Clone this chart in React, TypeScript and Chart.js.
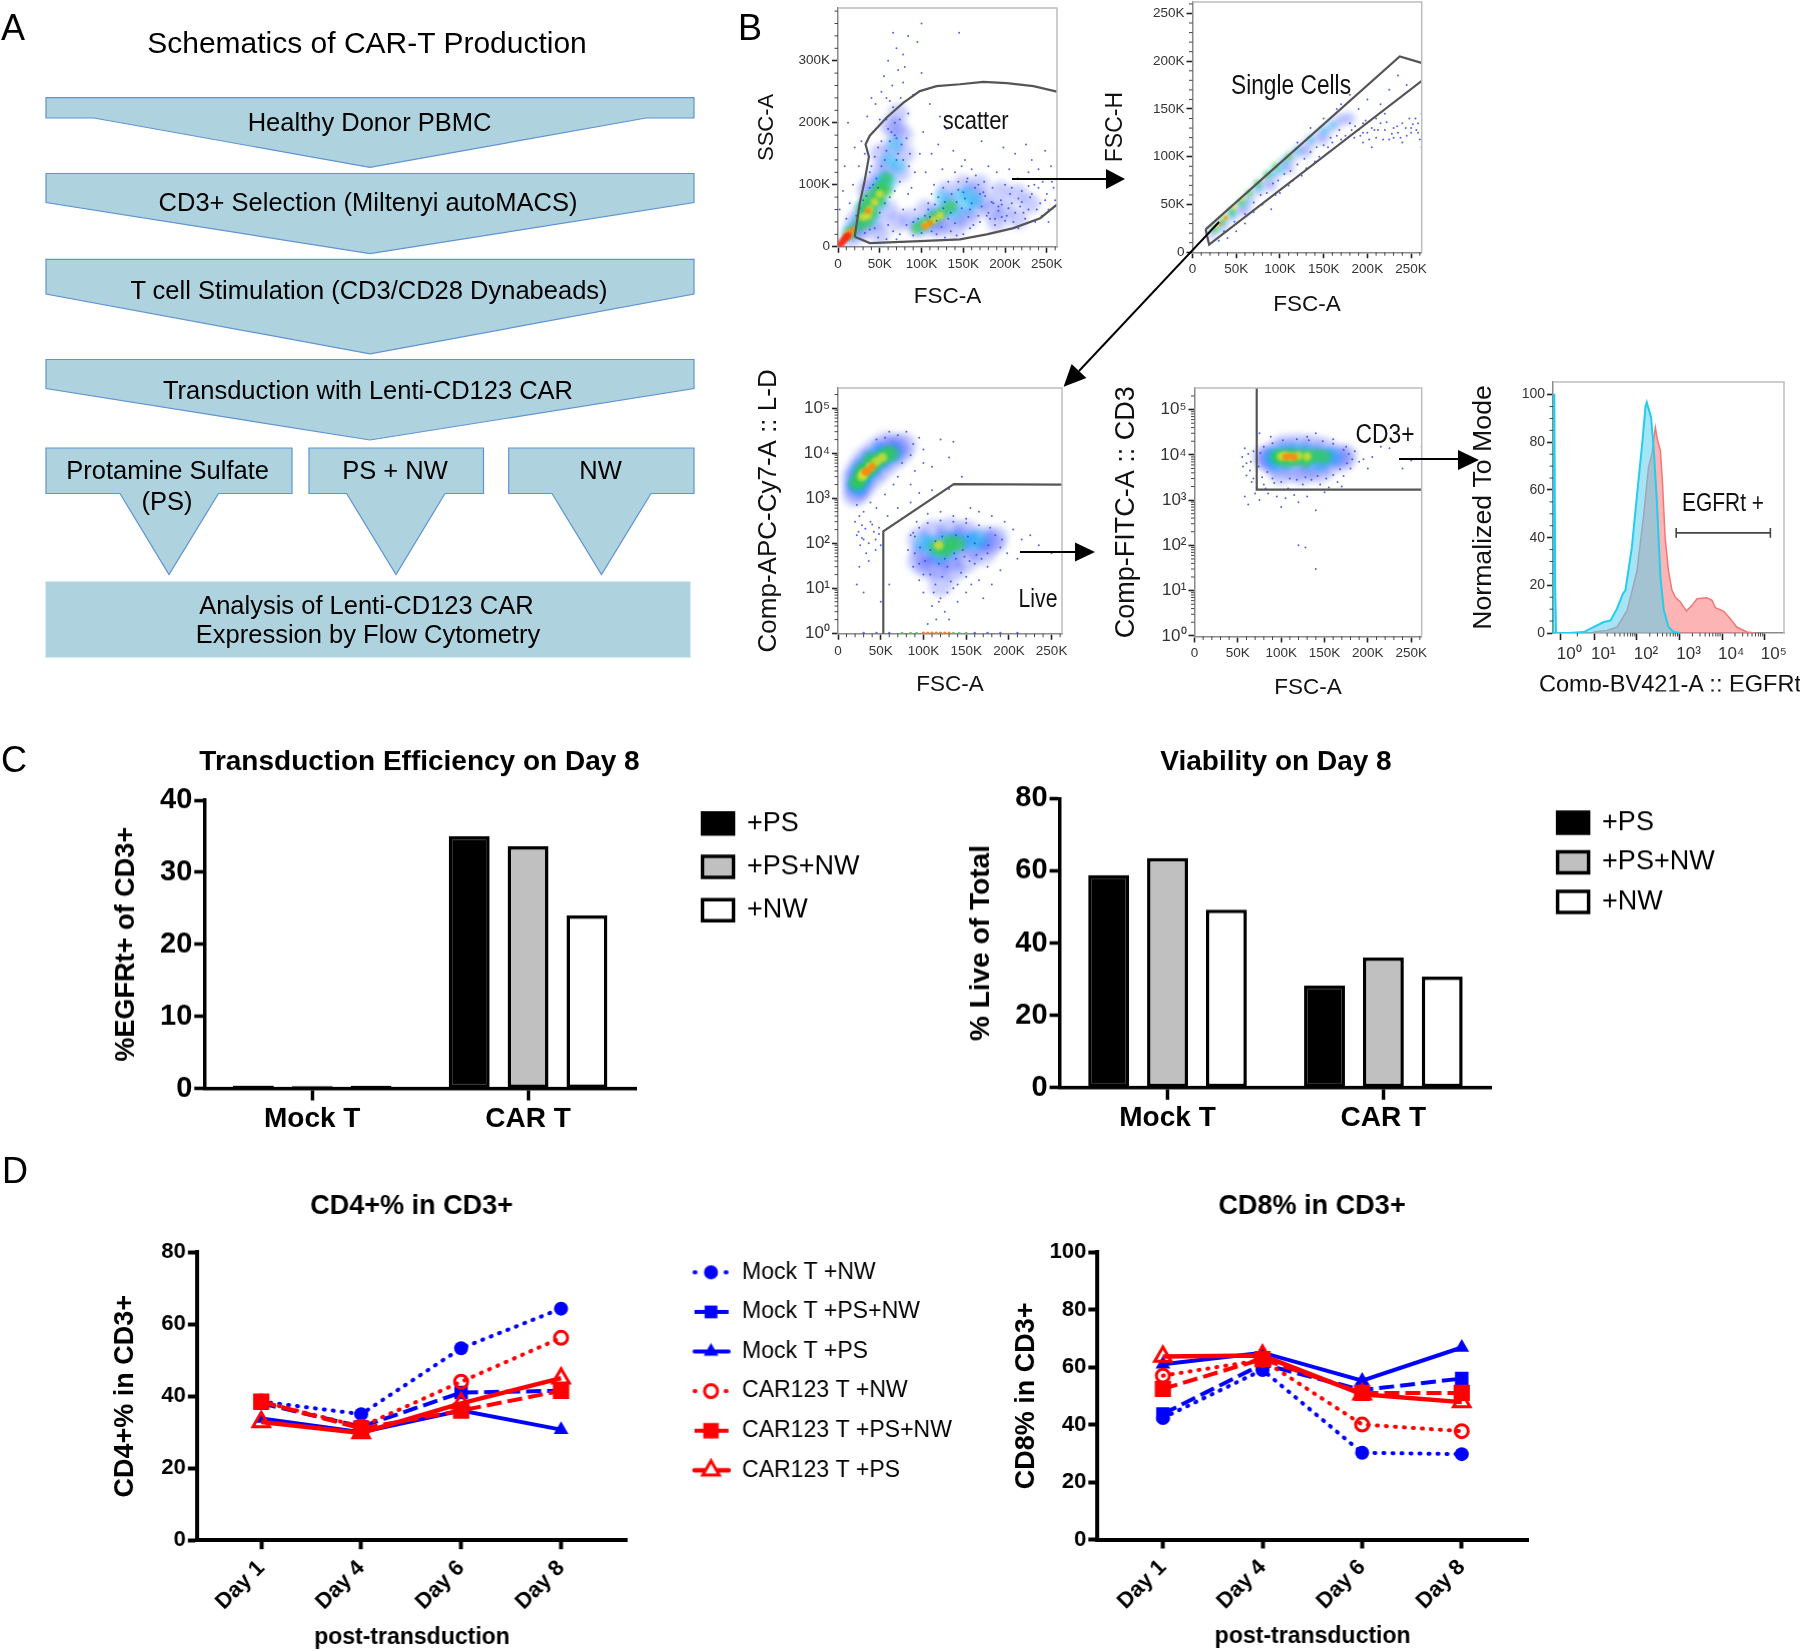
import React, { useEffect, useRef } from "react";
import { Chart, registerables } from "chart.js";
import { drawPoint } from "chart.js/helpers";

Chart.register(...registerables);

const SANS = "'Liberation Sans', Arial, sans-serif";

/* ---------- C: bars ---------- */
const barGroups = ["Mock T", "CAR T"];
const barSeriesNames = ["+PS", "+PS+NW", "+NW"];
const efficiencyPS = [0.4, 35];
const efficiencyPSNW = [0.3, 33.6];
const efficiencyNW = [0.35, 24];
const viabilityPS = [58.8, 28.2];
const viabilityPSNW = [63.5, 36];
const viabilityNW = [49.2, 30.7];

/* ---------- D: lines ---------- */
const days = ["Day 1", "Day 4", "Day 6", "Day 8"];
const lineSeriesNames = ["Mock T +NW", "Mock T +PS+NW", "Mock T +PS", "CAR123 T +NW", "CAR123 T +PS+NW", "CAR123 T +PS"];
const cd4MockNW = [38.5, 35, 53.3, 64.3];
const cd4MockPSNW = [38, 31.5, 41, 41.5];
const cd4MockPS = [33.8, 30, 36, 30.7];
const cd4CarNW = [38.5, 31.5, 44, 56.2];
const cd4CarPSNW = [38.5, 31, 36, 41.5];
const cd4CarPS = [32.8, 29.8, 38, 45];
const cd8MockNW = [42.3, 59, 30.2, 29.7];
const cd8MockPSNW = [43.7, 61, 52, 56];
const cd8MockPS = [61, 65, 55.3, 66.8];
const cd8CarNW = [57, 62.5, 40, 37.7];
const cd8CarPSNW = [52.4, 62.8, 51, 51];
const cd8CarPS = [63.7, 64, 50.5, 47.8];

/* ---------- B: histogram (x in decades of the display axis) ---------- */
const histCyan = [[0.03,0],[0.03,100],[0.06,100],[0.08,20],[0.1,0],[0.4,0],[0.75,0.4],[0.98,2.5],[1.22,4.6],[1.38,5.3],[1.53,10.2],[1.67,16.5],[1.73,18],[1.88,36],[2.04,65],[2.12,79],[2.2,95],[2.23,96.8],[2.33,90.5],[2.39,78],[2.47,54],[2.55,23.5],[2.63,9.5],[2.74,2.5],[2.86,0.4],[3.02,0]];
const histRed = [[0.98,0.4],[1.3,1.1],[1.53,2.5],[1.77,9.5],[2,26],[2.16,50],[2.27,69.5],[2.35,75],[2.43,86.3],[2.48,81],[2.55,76.5],[2.6,62.5],[2.66,40],[2.74,26],[2.82,18],[2.9,15],[3.02,13],[3.16,9.2],[3.29,11.6],[3.41,14.4],[3.64,14.8],[3.76,13.7],[3.84,10.6],[4.03,9.2],[4.19,6],[4.34,2.5],[4.58,0.4],[4.77,0]];
const histGate = [[2.92,40],[2.92,44],[2.92,42],[5.13,42],[5.13,40],[5.13,44]];
const histTickPositions = [0.2, 1, 2, 3, 4, 5];
const histTickLabels = ["10⁰", "10¹", "10²", "10³", "10⁴", "10⁵"];
const histMinorX = [0.6,1.3,1.48,1.6,1.7,1.78,1.85,1.9,1.95,2.3,2.48,2.6,2.7,2.78,2.85,2.9,2.95,3.3,3.48,3.6,3.7,3.78,3.85,3.9,3.95,4.3,4.48,4.6,4.7,4.78,4.85,4.9,4.95];
const histMinorY = [5,10,15,25,30,35,45,50,55,65,70,75,85,90,95];

/* ---------- B: flow plots ---------- */
const linearMajor = [0, 50, 100, 150, 200, 250];
const linearMinor = [10,20,30,40,60,70,80,90,110,120,130,140,160,170,180,190,210,220,230,240,260];
const logMajor = [1, 10, 100, 1000, 10000, 100000];
const logMinor = [2,3,4,5,6,7,8,9,20,30,40,50,60,70,80,90,200,300,400,500,600,700,800,900,2000,3000,4000,5000,6000,7000,8000,9000,20000,30000,40000,50000,60000,70000,80000,90000,200000];

const scatterGate = [[20,16],[26,70],[32,107],[37,145],[33,165],[38,179],[58,208],[78,232],[98,251],[118,259],[146,262],[174,266],[202,264],[234,259],[262,250]];
const scatterGateLow = [[262,68],[242,46],[210,30],[178,20],[146,12],[98,9],[38,6],[20,16]];
const scatterSparse = [[2,60],[6,90],[8,130],[10,45],[14,70],[18,100],[20,160],[12,200],[25,130],[28,170],[32,150],[35,210],[38,120],[42,185],[45,230],[48,160],[52,250],[55,275],[58,205],[60,300],[62,235],[65,260],[68,180],[70,320],[72,285],[75,240],[78,265],[80,290],[82,175],[84,215],[85,130],[88,95],[90,245],[92,60],[95,330],[98,150],[100,280],[102,185],[105,120],[108,70],[110,230],[112,150],[115,100],[118,20],[120,165],[122,210],[125,125],[128,15],[130,190],[132,105],[135,25],[138,155],[140,120],[142,18],[145,345],[148,130],[150,20],[152,140],[155,110],[158,30],[160,125],[162,35],[165,115],[168,100],[170,40],[172,170],[175,105],[178,50],[180,130],[182,45],[185,95],[188,35],[190,120],[192,65],[195,75],[198,160],[200,100],[202,50],[205,125],[208,70],[210,40],[212,150],[215,110],[218,65],[220,90],[222,55],[225,165],[228,120],[230,80],[232,140],[235,100],[238,60],[240,125],[242,70],[245,105],[248,155],[250,85],[252,60],[255,130],[258,95],[260,75],[66,225],[74,205],[58,240],[86,150],[92,120],[40,240],[50,205],[70,140],[96,45],[112,85],[126,95],[144,105],[158,60],[174,88],[186,70],[196,48],[206,85],[216,78],[228,98],[84,340],[78,310],[66,345],[100,360],
  [22,50],[26,62],[30,75],[34,82],[38,95],[42,100],[46,110],[48,95],[52,130],[56,140],[58,155],[62,170],[64,185],[68,200],[70,175],[72,150],[76,165],[78,140],[74,105],[68,90],[62,80],[56,70],[50,55],[44,30],[38,28],[32,22],[60,35],[66,25],[74,20],[82,35],[78,60],[84,85],[40,130],[44,145],[52,170],[60,190],[48,15],[58,12],[70,12],[90,18],[90,40],[100,22],[104,50],[108,60],[112,25],[116,68],[120,80],[124,32],[128,72],[132,45],[136,85],[140,38],[144,92],[148,62],[152,78],[156,48],[160,70],[164,95],[168,50],[172,65],[176,82],[180,55],[184,72],[188,45],[192,58],[196,68],[200,42],[204,62],[208,95],[212,55],[216,30],[220,72],[224,45],[228,60],[232,85],[236,40],[240,95],[244,50],[248,75],[252,40],[256,105],[154,105],[142,72],[126,62],[118,42],[110,48],[170,85],[150,88],[135,55]];
const scatterBlue = [[20,40],[30,55],[40,70],[25,25],[45,40],[55,100],[60,130],[65,160],[70,190],[72,215],[50,120],[80,150],[75,120],[35,90],[15,15],[60,60],[50,20],[70,40],[95,30],[110,35],[120,55],[135,70],[150,100],[160,85],[175,75],[185,60],[145,50],[165,60],[130,90],[125,40],[200,60],[215,45],[195,90],[215,85],[85,45],[105,60],[120,30],[140,30],[155,45],[170,100],[190,40],[230,70],[50,150],[62,195],[78,180],[40,100],[30,30]];
const scatterCyan = [[25,40],[35,60],[45,85],[55,110],[62,140],[68,165],[40,45],[50,70],[15,25],[100,35],[115,50],[130,65],[145,80],[155,85],[165,75],[140,55],[62,105],[30,65],[50,100],[72,130],[155,65],[125,80]];
const scatterGreen = [[25,35],[30,50],[38,65],[45,80],[52,95],[58,110],[35,40],[15,22],[95,30],[105,38],[115,47],[125,55],[135,65],[30,62],[42,55],[50,75],[58,90],[48,92],[35,78]];
const scatterYellow = [[12,20],[30,48],[38,60],[44,72],[105,35],[115,43],[122,50],[36,50],[50,85]];
const scatterOrange = [[10,16],[14,22],[18,28],[110,38],[36,58],[104,33]];
const scatterRed = [[3,4],[6,9],[9,14],[12,18]];

const singletGate = [[15,24],[237,205],[263,198],[263,180],[19,8],[15,24]];
const singletSparse = [[180,135],[190,128],[195,135],[200,125],[205,130],[210,120],[215,135],[220,128],[225,118],[230,130],[235,125],[240,135],[245,122],[250,130],[255,140],[258,125],[260,118],[185,120],[195,115],[205,110],[190,150],[200,160],[215,155],[225,170],[235,185],[245,175],[170,155],[180,165],[155,110],[140,95],[125,80],[110,70],[95,60],[80,50],[70,42],[60,30],[50,22],[40,15],[30,12],[90,45],[100,62],[115,75],[130,88],[145,100],[160,115],[175,122],[150,140],[165,150],[120,115],[135,130],[210,140],[220,145],[230,120],[240,115],[250,125],[248,140],[258,135],[262,110],[262,145],[170,118],[182,128],[195,125],[208,128],[218,118],[186,132],[192,122],[198,138],[202,118],[212,128],[222,136],[228,124],[234,132],[238,120],[244,130],[252,134],[256,128],[70,52],[85,62],[98,75],[112,85],[128,98],[142,110],[158,120],[168,128],[60,40],[48,32],[36,22],[78,60],[92,72],[105,82],[120,92],[135,105],[150,112],[165,122]];
const singletBlue = [[22,20],[35,28],[45,38],[55,45],[65,55],[75,65],[85,73],[95,82],[105,92],[115,100],[125,108],[135,115],[145,122],[155,128],[165,135],[172,140],[110,88],[130,105],[150,118],[180,140],[60,45],[90,70]];
const singletCyan = [[30,27],[45,40],[60,53],[75,68],[90,82],[105,95],[120,106],[135,118],[150,127],[160,133],[100,86]];
const singletGreen = [[25,24],[35,33],[45,43],[55,52],[65,62],[75,72],[85,81],[95,90],[110,100]];
const singletYellow = [[28,27],[38,37],[48,47],[58,56]];
const singletOrange = [[32,30],[38,36]];

const liveGate = [[53,0.9],[53,182],[135.5,2040],[264,1990]];
const liveSparse = [[22,700],[25,400],[28,250],[30,120],[33,60],[22,150],[26,90],[38,300],[42,180],[48,220],[36,40],[44,120],[50,90],[58,400],[70,600],[85,800],[95,1300],[110,1500],[130,1600],[80,30000],[95,22000],[120,20000],[135,18000],[100,12000],[110,5000],[130,8000],[145,3000],[155,600],[165,500],[180,400],[195,300],[205,200],[215,120],[175,30],[190,25],[165,15],[150,8],[140,5],[125,3],[110,4],[100,8],[95,15],[88,30],[82,70],[85,150],[92,300],[105,450],[120,500],[135,400],[150,350],[190,80],[198,60],[210,45],[180,12],[170,6],[130,2],[115,2],[105,1.6],[120,6],[135,10],[150,18],[160,35],[175,60],[225,150],[250,60],[235,90],[60,12],[50,5],[25,30],[22,12],[30,8],[70,3000],[85,2000],[60,30000],
  [20,300],[24,180],[28,130],[32,210],[36,100],[40,260],[44,70],[48,160],[30,500],[38,800],[45,600],[55,1200],[65,2000],[90,4000],[85,9000],[100,6000],[75,6000],[88,16000],[45,20000],[55,22000],[70,25000],[90,140],[96,80],[102,40],[108,20],[114,12],[122,18],[128,30],[132,14],[138,45],[144,22],[148,50],[154,40],[162,55],[168,45],[176,90],[184,150],[192,120],[178,220],[165,250],[150,280],[135,300],[120,320],[105,280],[95,220],[88,170],[90,60],[95,35],[100,20],[112,8],[118,5],[128,8],[140,12],[156,12],[125,45],[118,35],[136,60],[146,70],[160,100],[108,70],[114,110],[122,140],[138,150],[152,140]];
const liveBlue = [[20,1200],[22,1500],[25,2500],[30,4000],[38,6000],[48,8000],[58,12000],[68,15000],[78,15000],[30,1800],[40,3000],[50,4500],[62,7000],[72,10000],[18,2500],[22,4000],[30,7000],[42,11000],[55,16000],[95,120],[110,180],[130,200],[150,180],[170,130],[180,100],[100,60],[120,60],[140,90],[160,80],[115,30],[135,25],[105,30],[125,110],[145,130],[120,12],[130,40],[170,60],[95,40],[150,40],[185,130]];
const liveCyan = [[22,2000],[25,2000],[30,3000],[38,4000],[45,6000],[55,8000],[65,10000],[25,4000],[35,6500],[48,10000],[110,90],[125,110],[140,110],[155,110],[118,55],[100,100],[130,70],[165,120]];
const liveGreen = [[22,2200],[25,2500],[32,3800],[40,5000],[48,7000],[55,9000],[62,10000],[28,4000],[38,7000],[115,80],[125,70],[130,100],[140,95]];
const liveYellow = [[28,3000],[30,3500],[38,5000],[45,6500],[52,8000],[118,90]];
const liveOrange = [[32,3800],[35,4000],[40,5000]];
const liveBandWarm = [[100,1],[105,1],[110,1],[115,1],[120,1],[125,1],[130,1]];
const liveBandGreen = [[75,1],[85,1],[92,1],[135,1],[142,1],[150,1]];
const liveBandBlue = [[30,1],[45,1],[60,1],[160,1],[175,1],[190,1],[210,1]];

const cd3Gate = [[71.8,400000],[71.8,1700],[263,1700]];
const cd3Sparse = [[55,9000],[58,14000],[56,5500],[60,3500],[58,1200],[62,800],[66,2500],[70,1400],[75,1000],[85,1400],[95,1200],[100,700],[105,1100],[115,1300],[120,900],[130,1200],[140,600],[150,1500],[155,1900],[165,2500],[172,3400],[180,5000],[190,7000],[200,5000],[195,8000],[205,9000],[215,15000],[225,14000],[240,5000],[250,7500],[262,15000],[120,100],[128,90],[140,30],[75,30000],[88,25000],[130,25000],[140,30000],[160,22000],[175,15000],[80,2200],[90,3000],[100,2500],[125,2200],[135,2800],[145,2200],[65,7000],[68,12000],[185,12000],[170,2000],
  [78,3200],[84,4200],[92,2400],[108,1800],[118,2800],[128,3200],[142,3400],[152,3000],[160,3600],[168,4800],[176,6500],[182,8000],[178,10500],[172,13000],[160,17500],[148,20000],[132,21000],[118,22000],[102,21000],[90,18000],[80,15000],[76,11000],[72,8000],[74,5500],[62,10500],[60,6500],[64,4500],[68,3000],[82,1800],[110,3000]];
const cd3Blue = [[80,9000],[85,9000],[95,13000],[105,16000],[120,17000],[135,16000],[150,14000],[165,10000],[170,7500],[155,6000],[135,5000],[115,4500],[95,5500],[85,7000],[110,10000],[130,10000],[150,9000],[125,3800],[100,3800],[145,4200],[175,9500]];
const cd3Cyan = [[90,9000],[95,9000],[105,12000],[120,12500],[135,11000],[150,9500],[110,7000],[130,7000],[160,9000],[145,6500],[95,6500]];
const cd3Green = [[95,9000],[100,9000],[110,10000],[120,9500],[130,9500],[140,9500],[115,7800],[105,7500],[128,7500],[150,9000]];
const cd3Yellow = [[100,9200],[105,9500],[112,9000],[120,9500],[130,9200]];
const cd3Orange = [[105,9000],[110,9300],[115,8800]];

/* ---------- A: schematic (drawn as an overlay, not data) ---------- */
const schematicShapes = [
  "46,97.6 694,97.6 694,118 646,118 370,167.4 94,118 46,118",
  "46,173.5 694,173.5 694,202.5 370,253.7 46,202.5",
  "46,259.3 694,259.3 694,294 370,353.9 46,294",
  "46,359.5 694,359.5 694,388.5 370,440 46,388.5",
  "46,448 292,448 292,493.5 218.5,493.5 169,574.6 120,493.5 46,493.5",
  "309,448 483.5,448 483.5,493.5 445,493.5 396,574.6 346.6,493.5 309,493.5",
  "508.7,448 694,448 694,493.5 651,493.5 601.5,574.6 552,493.5 508.7,493.5",
];
const schematicLabels: [string, number, number][] = [
  ["Healthy Donor PBMC", 369.6, 121.9],
  ["CD3+ Selection (Miltenyi autoMACS)", 368, 201.6],
  ["T cell Stimulation (CD3/CD28 Dynabeads)", 369, 289.7],
  ["Transduction with Lenti-CD123 CAR", 368, 389.9],
  ["Protamine Sulfate", 167.6, 470],
  ["(PS)", 167, 501],
  ["PS + NW", 395, 470],
  ["NW", 600.5, 470],
  ["Analysis of Lenti-CD123 CAR", 366.4, 604.5],
  ["Expression by Flow Cytometry", 368, 634.4],
];
const panelLetters: [string, number, number][] = [["A", 1, 40], ["B", 738, 40], ["C", 1, 772], ["D", 2, 1183]];
const gateLabels: [string, number, number, number, number][] = [
  ["scatter", 975.7, 120, 26, 66],
  ["Single Cells", 1291, 85, 27, 120],
  ["Live", 1038, 598, 26, 39],
  ["CD3+", 1385, 434, 27, 59],
  ["EGFRt +", 1723, 501.7, 25, 82],
];
const arrowLines = [[1012, 179, 1108, 179], [1219, 222, 1079, 371], [1020, 552, 1077, 552], [1399, 459, 1460, 459]];
const arrowHeads = ["1106,169 1125,179 1106,189", "1063.6,386.7 1086.4,377.9 1071.6,364.1", "1075,542.5 1095,552 1075,561.5", "1458,450 1479,460 1458,470"];

/* ---------- helpers ---------- */
const sup = (v: number) => "10" + "⁰¹²³⁴⁵"[Math.round(Math.log10(v))];
const kLabel = (v: number) => (v === 0 ? "0" : v + "K");
const toPts = (a: number[][]) => a.map(([x, y]) => ({ x, y }));
const fixTicks = (vals: number[]) => (s: any) => { s.ticks = vals.map((value) => ({ value })); };
const stacked = (ds: any[]) => ds.map((d, i) => ({ ...d, order: ds.length - i }));

const cloud = (pts: number[][], color: string, r: number, blur = 0) => ({
  data: toPts(pts), showLine: false, pointRadius: r, pointHoverRadius: r, pointBorderWidth: 0,
  pointBackgroundColor: color, blur,
});
const gate = (pts: number[][], color = "#555", w = 2.2) => ({
  data: toPts(pts), showLine: true, pointRadius: 0, borderColor: color, borderWidth: w, tension: 0, fill: false,
});

const figurePlugin = {
  id: "figure",
  afterLayout(chart: any, _a: any, o: any) {
    const g = o.geo;
    if (o.titleX != null && chart.titleBlock) {
      chart.titleBlock.left = o.titleX - g.L - 350; chart.titleBlock.right = o.titleX - g.L + 350;
    }
    if (o.legendX != null && chart.legend) {
      const p = o.legendPad;
      chart.legend.left = o.legendX - g.L - p; chart.legend.right = o.legendX - g.L + 400;
      chart.legend.top = o.legendY - g.T - p; chart.legend.bottom = o.legendY - g.T + 500;
    }
  },
  beforeDatasetDraw(chart: any, a: any) {
    const d = chart.data.datasets[a.index];
    if (d.blur) { chart.ctx.save(); chart.ctx.filter = `blur(${d.blur}px)`; }
  },
  afterDatasetDraw(chart: any, a: any) {
    if (chart.data.datasets[a.index].blur) chart.ctx.restore();
  },
  afterDatasetsDraw(chart: any, _a: any, o: any) {
    const { ctx, chartArea: c, scales } = chart;
    ctx.save();
    if (o.frame) {
      ctx.strokeStyle = o.frame; ctx.lineWidth = 1.5;
      ctx.beginPath(); ctx.moveTo(c.left, c.top); ctx.lineTo(c.right, c.top); ctx.lineTo(c.right, c.bottom); ctx.stroke();
    }
    ctx.strokeStyle = "#444"; ctx.lineWidth = 1;
    (o.minorX || []).forEach((v: number) => {
      const x = scales.x.getPixelForValue(v);
      if (x <= c.right) { ctx.beginPath(); ctx.moveTo(x, c.bottom); ctx.lineTo(x, c.bottom + 3.5); ctx.stroke(); }
    });
    (o.minorY || []).forEach((v: number) => {
      const y = scales.y.getPixelForValue(v);
      if (y >= c.top) { ctx.beginPath(); ctx.moveTo(c.left, y); ctx.lineTo(c.left - 3.5, y); ctx.stroke(); }
    });
    ctx.restore();
  },
};
Chart.register(figurePlugin as any);

type Geo = { L: number; T: number; R: number; B: number; l: number; r: number; t: number; b: number };
const place = (yTitleX: number, ySize: number, xTitleY: number, xSize: number, l: number, r: number, t: number, b: number, R: number, T?: number): Geo => ({
  L: yTitleX - ySize / 2, T: T ?? t - 24, R, B: xTitleY + xSize / 2, l, r, t, b,
});

const BAR_TITLE = 28;
const LINE_TITLE = 27;
const FLOW_XTITLE = 22.5;

const geos: Record<string, Geo> = {
  scatter: place(767, 22, 297, FLOW_XTITLE, 838, 1057, 8, 247, 1090),
  singlet: place(1115, 23, 305, FLOW_XTITLE, 1192, 1421.7, 2, 252.5, 1455),
  live: place(769, 26, 685, FLOW_XTITLE, 838, 1062, 388, 634, 1095),
  cd3: place(1126, 27, 688, FLOW_XTITLE, 1194, 1421.7, 388, 636.7, 1455),
  hist: place(1483, 26.7, 684, 24, 1552.7, 1784, 381.7, 633, 1800),
  efficiency: place(126, 27, 1130, 27, 203.8, 636, 800, 1088, 880, 762 - BAR_TITLE / 2),
  viability: place(981, 28, 1130, 27, 1059.6, 1491.3, 798.3, 1087.3, 1800, 762 - BAR_TITLE / 2),
  cd4: place(125.7, 27, 1638, 23, 197, 627.5, 1252.3, 1540.7, 1000, 1206.7 - LINE_TITLE / 2),
  cd8: place(1026.8, 27, 1637, 23, 1097.5, 1528, 1252.3, 1540, 1560, 1206.7 - LINE_TITLE / 2),
};

const layoutOf = (g: Geo, titled: boolean) => ({
  padding: { left: 0, right: g.R - g.r, top: titled ? 0 : g.t - g.T, bottom: 0 },
});

function flowConfig(key: string, datasets: any[], xTitle: string, yTitle: string, ySize: number, y: any, minorY: number[]) {
  const g = geos[key];
  const isLog = y.type === "logarithmic";
  return {
    type: "scatter",
    data: { datasets: stacked(datasets) },
    options: {
      responsive: false, animation: false, layout: layoutOf(g, false),
      plugins: { legend: { display: false }, title: { display: false }, tooltip: { enabled: false }, figure: { geo: g, frame: "#BDBDBD", minorX: linearMinor, minorY } },
      scales: {
        x: {
          type: "linear", min: 0, max: 262.144,
          afterFit: (s: any) => { s.height = g.B - g.b; },
          afterBuildTicks: fixTicks(linearMajor),
          grid: { drawOnChartArea: false, tickLength: 6, tickWidth: 1.6, tickColor: "#222" },
          border: { color: "#8a8a8a", width: 1.5 },
          ticks: { font: { family: SANS, size: 13.5 }, color: "#333", padding: 3, autoSkip: false, maxRotation: 0, callback: (v: number) => kLabel(v) },
          title: { display: true, text: xTitle, color: "#111", font: { family: SANS, size: FLOW_XTITLE, lineHeight: 1 }, padding: 0 },
        },
        y: {
          ...y,
          afterFit: (s: any) => { s.width = g.l - g.L; },
          grid: { drawOnChartArea: false, tickLength: 6, tickWidth: 1.6, tickColor: "#222" },
          border: { color: "#8a8a8a", width: 1.5 },
          ticks: { font: { family: SANS, size: isLog ? 17 : 13.5 }, color: "#333", padding: 2, autoSkip: false, callback: isLog ? (v: number) => sup(v) : (v: number) => kLabel(v) },
          title: { display: true, text: yTitle, color: "#111", font: { family: SANS, size: ySize, lineHeight: 1 }, padding: 0 },
        },
      },
    },
  };
}

function barConfig(key: string, title: string, yTitle: string, ySize: number, series: number[][], yMax: number, yStep: number, cx: number, lx: number, ly: number, lp: number) {
  const g = geos[key];
  const fills = ["#000000", "#C0C0C0", "#FFFFFF"];
  return {
    type: "bar",
    data: {
      labels: barGroups,
      datasets: series.map((data, i) => ({
        label: barSeriesNames[i], data, backgroundColor: fills[i], borderColor: "#000", borderWidth: 3.5, borderSkipped: false,
        barPercentage: 0.695, categoryPercentage: 0.818,
      })),
    },
    options: {
      responsive: false, animation: false, layout: layoutOf(g, true),
      plugins: {
        tooltip: { enabled: false },
        figure: { geo: g, titleX: cx, legendX: lx, legendY: ly, legendPad: lp },
        title: { display: true, text: title, color: "#000", font: { family: SANS, size: BAR_TITLE, weight: "bold", lineHeight: 1 }, padding: { top: 0, bottom: g.t - g.T - BAR_TITLE } },
        legend: { display: true, position: "chartArea", align: "start", labels: { boxWidth: 31, boxHeight: 21, padding: lp, color: "#000", font: { family: SANS, size: 27 } } },
      },
      scales: {
        x: {
          afterFit: (s: any) => { s.height = g.B - g.b; },
          grid: { offset: false, drawOnChartArea: false, tickLength: 12, tickWidth: 3.5, tickColor: "#000" },
          border: { color: "#000", width: 3.5 },
          ticks: { font: { family: SANS, size: 28, weight: "bold" }, color: "#000", padding: 2, maxRotation: 0 },
        },
        y: {
          min: 0, max: yMax,
          afterFit: (s: any) => { s.width = g.l - g.L; },
          grid: { drawOnChartArea: false, tickLength: 10, tickWidth: 3.5, tickColor: "#000" },
          border: { color: "#000", width: 3.5 },
          ticks: { stepSize: yStep, font: { family: SANS, size: 29, weight: "bold" }, color: "#000", padding: 2 },
          title: { display: true, text: yTitle, color: "#000", font: { family: SANS, size: ySize, weight: "bold", lineHeight: 1 }, padding: 0 },
        },
      },
    },
  };
}

const BLUE = "#0000FF";
const RED = "#FF0000";
const lineStyles = [
  { c: BLUE, dash: [1, 8], cap: "round", w: 4, ps: "circle", r: 7, open: false },
  { c: BLUE, dash: [15, 6], cap: "butt", w: 4, ps: "rect", r: 9.5, open: false },
  { c: BLUE, dash: [], cap: "butt", w: 4, ps: "triangle", r: 8.5, open: false },
  { c: RED, dash: [1, 8], cap: "round", w: 4, ps: "circle", r: 6.5, open: true },
  { c: RED, dash: [15, 6], cap: "butt", w: 4, ps: "rect", r: 11.5, open: false },
  { c: RED, dash: [], cap: "butt", w: 4.5, ps: "triangle", r: 9.5, open: true },
];

function legendGlyph(i: number) {
  const s = lineStyles[i];
  const cv = document.createElement("canvas");
  cv.width = 39; cv.height = 24;
  const ctx = cv.getContext("2d") as CanvasRenderingContext2D;
  ctx.strokeStyle = s.c; ctx.lineWidth = s.w; ctx.lineCap = s.dash.length ? (s.cap as CanvasLineCap) : "round";
  ctx.setLineDash(s.dash.length && s.dash[0] === 1 ? [1, 30] : []);
  ctx.beginPath(); ctx.moveTo(3, 12); ctx.lineTo(37, 12); ctx.stroke();
  ctx.setLineDash([]);
  ctx.fillStyle = s.open ? "#fff" : s.c; ctx.lineWidth = s.open ? 3 : 0;
  drawPoint(ctx, { radius: s.ps === "rect" ? s.r * 0.95 : s.r, pointStyle: s.ps, rotation: 0, borderWidth: s.open ? 3 : 0 } as any, 19.5, 12);
  return cv;
}

function lineConfig(key: string, title: string, yTitle: string, series: number[][], yMax: number, yStep: number, xMin: number, xMax: number, cx: number, withLegend: boolean) {
  const g = geos[key];
  const datasets = series.map((ys, i) => {
    const s = lineStyles[i];
    return {
      label: lineSeriesNames[i], data: ys.map((y, x) => ({ x, y })), borderColor: s.c, borderWidth: s.w, borderDash: s.dash,
      borderCapStyle: s.cap, tension: 0, fill: false, pointStyle: s.ps, pointRadius: s.r, pointHoverRadius: s.r,
      pointBackgroundColor: s.open ? "rgba(0,0,0,0)" : s.c, pointBorderColor: s.c, pointBorderWidth: s.open ? 3 : 0,
    };
  });
  return {
    type: "line",
    data: { datasets: stacked(datasets) },
    options: {
      responsive: false, animation: false, layout: layoutOf(g, true),
      plugins: {
        tooltip: { enabled: false },
        figure: withLegend ? { geo: g, titleX: cx, legendX: 691, legendY: 1261, legendPad: 16.6 } : { geo: g, titleX: cx },
        title: { display: true, text: title, color: "#000", font: { family: SANS, size: LINE_TITLE, weight: "bold", lineHeight: 1 }, padding: { top: 0, bottom: g.t - g.T - LINE_TITLE } },
        legend: withLegend
          ? {
              display: true, position: "chartArea", align: "start",
              labels: {
                usePointStyle: true, pointStyleWidth: 39, boxHeight: 16, padding: 16.6, color: "#000", font: { family: SANS, size: 23 },
                generateLabels: () => lineSeriesNames.map((text, i) => ({ text, pointStyle: legendGlyph(i), datasetIndex: i, fontColor: "#000", lineWidth: 0, hidden: false })),
              },
            }
          : { display: false },
      },
      scales: {
        x: {
          type: "linear", min: xMin, max: xMax,
          afterFit: (s: any) => { s.height = g.B - g.b; },
          afterBuildTicks: fixTicks(days.map((_, i) => i)),
          grid: { drawOnChartArea: false, tickLength: 9, tickWidth: 4, tickColor: "#000" },
          border: { color: "#000", width: 4 },
          ticks: { autoSkip: false, minRotation: 45, maxRotation: 45, padding: 6, font: { family: SANS, size: 22, weight: "bold" }, color: "#000", callback: (v: number) => days[v] },
          title: { display: true, text: "post-transduction", color: "#000", font: { family: SANS, size: 23, weight: "bold", lineHeight: 1 }, padding: 0 },
        },
        y: {
          min: 0, max: yMax,
          afterFit: (s: any) => { s.width = g.l - g.L; },
          grid: { drawOnChartArea: false, tickLength: 9, tickWidth: 4, tickColor: "#000" },
          border: { color: "#000", width: 4 },
          ticks: { stepSize: yStep, font: { family: SANS, size: 22, weight: "bold" }, color: "#000", padding: 2 },
          title: { display: true, text: yTitle, color: "#000", font: { family: SANS, size: 27, weight: "bold", lineHeight: 1 }, padding: 0 },
        },
      },
    },
  };
}

function histConfig() {
  const g = geos.hist;
  return {
    type: "scatter",
    data: {
      datasets: stacked([
        { data: toPts(histRed), showLine: true, pointRadius: 0, tension: 0, fill: "origin", borderColor: "#F27878", borderWidth: 1.5, backgroundColor: "rgba(252,130,130,0.6)" },
        { data: toPts(histCyan), showLine: true, pointRadius: 0, tension: 0, fill: "origin", borderColor: "#22CDEE", borderWidth: 2, backgroundColor: "rgba(90,205,235,0.55)" },
        gate(histGate, "#444", 1.6),
      ]),
    },
    options: {
      responsive: false, animation: false, layout: layoutOf(g, false),
      plugins: { legend: { display: false }, title: { display: false }, tooltip: { enabled: false }, figure: { geo: g, frame: "#BDBDBD", minorX: histMinorX, minorY: histMinorY } },
      scales: {
        x: {
          type: "linear", min: 0.03, max: 5.45,
          afterFit: (s: any) => { s.height = g.B - g.b; },
          afterBuildTicks: fixTicks(histTickPositions),
          grid: { drawOnChartArea: false, tickLength: 7, tickWidth: 1.6, tickColor: "#222" },
          border: { color: "#8a8a8a", width: 1.5 },
          ticks: { font: { family: SANS, size: 17 }, color: "#333", padding: 4, labelOffset: 9, autoSkip: false, maxRotation: 0, callback: (_v: number, i: number) => histTickLabels[i] },
        },
        y: {
          min: 0, max: 105.3,
          afterFit: (s: any) => { s.width = g.l - g.L; },
          afterBuildTicks: fixTicks([0, 20, 40, 60, 80, 100]),
          grid: { drawOnChartArea: false, tickLength: 6, tickWidth: 1.6, tickColor: "#222" },
          border: { color: "#8a8a8a", width: 1.5 },
          ticks: { font: { family: SANS, size: 14 }, color: "#333", padding: 2, autoSkip: false },
          title: { display: true, text: "Normalized To Mode", color: "#111", font: { family: SANS, size: 26.7, lineHeight: 1 }, padding: 0 },
        },
      },
    },
  };
}

const layers = (sparse: number[][], blue: number[][], cyan: number[][], green: number[][], yellow: number[][], orange: number[][], red: number[][], k: number) => [
  cloud(blue, "rgba(45,65,255,0.26)", 10 * k, 3),
  cloud(cyan, "rgba(0,190,240,0.36)", 8 * k, 2.5),
  cloud(green, "rgba(50,205,70,0.60)", 6.5 * k, 2),
  cloud(yellow, "rgba(235,225,40,0.72)", 4 * k, 1.5),
  cloud(orange, "rgba(250,135,20,0.85)", 3.2 * k, 1.2),
  cloud(red, "rgba(245,40,20,0.9)", 3.6 * k, 1),
  cloud(sparse, "rgba(40,60,240,0.8)", 1),
];

const chartKeys = ["scatter", "singlet", "live", "cd3", "hist", "efficiency", "viability", "cd4", "cd8"];

export default function App() {
  const refs = useRef<Record<string, HTMLCanvasElement | null>>({});

  useEffect(() => {
    document.body.style.margin = "0";
    const configs: Record<string, any> = {
      scatter: flowConfig("scatter",
        [...layers(scatterSparse, scatterBlue, scatterCyan, scatterGreen, scatterYellow, scatterOrange, scatterRed, 1), gate(scatterGate), gate(scatterGateLow)],
        "FSC-A", "SSC-A", 22, { type: "linear", min: 0, max: 385, afterBuildTicks: fixTicks([0, 100, 200, 300]) },
        [20,40,60,80,120,140,160,180,220,240,260,280,320,340,360,380]),
      singlet: flowConfig("singlet",
        [...layers(singletSparse, singletBlue, singletCyan, singletGreen, singletYellow, singletOrange, [], 0.6), gate(singletGate)],
        "FSC-A", "FSC-H", 23, { type: "linear", min: 0, max: 262, afterBuildTicks: fixTicks(linearMajor) },
        linearMinor),
      live: flowConfig("live",
        [...layers(liveSparse, liveBlue, liveCyan, liveGreen, liveYellow, liveOrange, [], 1.2),
          cloud(liveBandBlue, "rgba(50,80,240,0.8)", 1.3), cloud(liveBandGreen, "rgba(80,200,90,0.9)", 1.5), cloud(liveBandWarm, "rgba(245,120,40,0.95)", 1.7),
          gate(liveGate)],
        "FSC-A", "Comp-APC-Cy7-A :: L-D", 26, { type: "logarithmic", min: 0.97, max: 280000, afterBuildTicks: fixTicks(logMajor) },
        logMinor),
      cd3: flowConfig("cd3",
        [...layers(cd3Sparse, cd3Blue, cd3Cyan, cd3Green, cd3Yellow, cd3Orange, [], 1.1), gate(cd3Gate)],
        "FSC-A", "Comp-FITC-A :: CD3", 27, { type: "logarithmic", min: 0.97, max: 300000, afterBuildTicks: fixTicks(logMajor) },
        logMinor),
      hist: histConfig(),
      efficiency: barConfig("efficiency", "Transduction Efficiency on Day 8", "%EGFRt+ of CD3+", 27, [efficiencyPS, efficiencyPSNW, efficiencyNW], 40, 10, 419, 702, 809.7, 16.3),
      viability: barConfig("viability", "Viability on Day 8", "% Live of Total", 28, [viabilityPS, viabilityPSNW, viabilityNW], 80, 20, 1276, 1557.6, 809, 12.5),
      cd4: lineConfig("cd4", "CD4+% in CD3+", "CD4+% in CD3+", [cd4MockNW, cd4MockPSNW, cd4MockPS, cd4CarNW, cd4CarPSNW, cd4CarPS], 80, 20, -0.644, 3.661, 411.4, true),
      cd8: lineConfig("cd8", "CD8% in CD3+", "CD8% in CD3+", [cd8MockNW, cd8MockPSNW, cd8MockPS, cd8CarNW, cd8CarPSNW, cd8CarPS], 100, 20, -0.658, 3.665, 1311.8, false),
    };
    const charts = chartKeys.map((k) => new Chart(refs.current[k] as HTMLCanvasElement, configs[k]));
    return () => charts.forEach((c) => c.destroy());
  }, []);

  return (
    <div style={{ position: "absolute", left: 0, top: 0, width: 1800, height: 1651, overflow: "hidden", background: "#fff" }}>
      {chartKeys.map((k) => {
        const g = geos[k];
        return (
          <canvas key={k} ref={(el) => { refs.current[k] = el; }} width={g.R - g.L} height={g.B - g.T}
            style={{ position: "absolute", left: g.L, top: g.T, width: g.R - g.L, height: g.B - g.T }} />
        );
      })}
      <svg width={1800} height={1651} style={{ position: "absolute", left: 0, top: 0, pointerEvents: "none" }}>
        <text x={1670} y={684} textAnchor="middle" dominantBaseline="central" fontFamily={SANS} fontSize={23.6} fill="#111">Comp-BV421-A :: EGFRt</text>
        <rect x={1500} y={691.5} width={300} height={14} fill="#fff" />
        {panelLetters.map(([t, x, y]) => (
          <text key={t} x={x} y={y} fontFamily={SANS} fontSize={36} fill="#000">{t}</text>
        ))}
        <text x={367} y={42.5} textAnchor="middle" dominantBaseline="central" fontFamily={SANS} fontSize={30} fill="#000">Schematics of CAR-T Production</text>
        {schematicShapes.map((p, i) => (
          <polygon key={i} points={p} fill="#AED3DF" stroke="#5F93D3" strokeWidth={1.2} />
        ))}
        <rect x={45.5} y={581.5} width={645} height={76} fill="#AED3DF" />
        {schematicLabels.map(([t, x, y]) => (
          <text key={t} x={x} y={y} textAnchor="middle" dominantBaseline="central" fontFamily={SANS} fontSize={25.5} fill="#000">{t}</text>
        ))}
        {gateLabels.map(([t, x, y, s, len]) => (
          <text key={t} x={x} y={y} textAnchor="middle" dominantBaseline="central" fontFamily={SANS} fontSize={s} fill="#111" textLength={len} lengthAdjust="spacingAndGlyphs">{t}</text>
        ))}
        {arrowLines.map(([a, b, c, d], i) => (
          <line key={i} x1={a} y1={b} x2={c} y2={d} stroke="#000" strokeWidth={2} />
        ))}
        {arrowHeads.map((p, i) => (
          <polygon key={i} points={p} fill="#000" />
        ))}
      </svg>
    </div>
  );
}
